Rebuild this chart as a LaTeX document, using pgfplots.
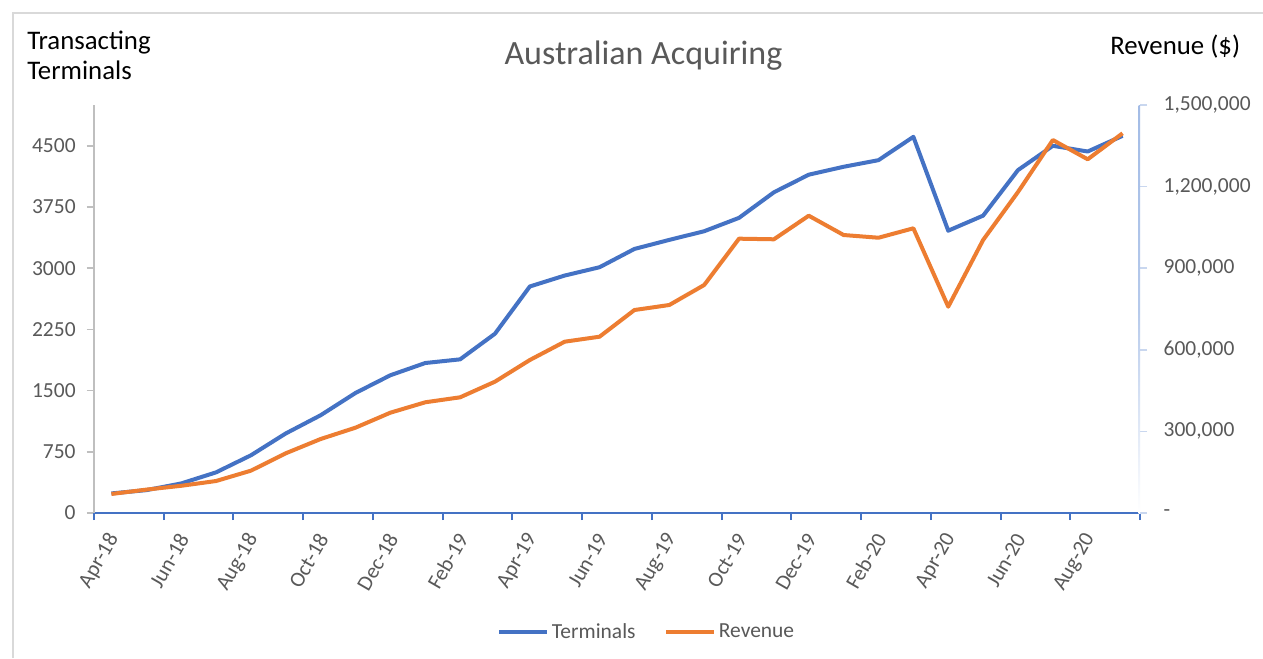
\documentclass[border=0pt]{standalone}
\usepackage{fontspec}
\setmainfont{Carlito}
\usepackage{pgfplots}
\pgfplotsset{compat=1.18}
\definecolor{tblue}{HTML}{4472C4}
\definecolor{torange}{HTML}{ED7D31}
\definecolor{txtgray}{HTML}{595959}
\definecolor{axgray}{HTML}{BFBFBF}
\definecolor{frgray}{HTML}{D9D9D9}
\definecolor{rblue}{HTML}{A3BCE6}
\definecolor{rtick}{HTML}{C9D7EF}
\newcommand{\tickfont}{\fontsize{16.1}{19}\selectfont}
\begin{document}
\begin{tikzpicture}
\useasboundingbox (0,0) rectangle (947.25pt,493.5pt);
\fill[white] (0,0) rectangle (947.25pt,493.5pt);
\draw[frgray, line width=1.5pt] (9.75pt,0pt) -- (9.75pt,483.75pt) -- (947.25pt,483.75pt);
\node[anchor=base, text=txtgray, font=\fontsize{25.5}{30}\selectfont] at (482.6pt,444.75pt) {Australian Acquiring};
\node[anchor=base west, inner sep=0pt, font=\fontsize{20.1}{24}\selectfont] at (20.25pt,456pt) {Transacting};
\node[anchor=base west, inner sep=0pt, font=\fontsize{20.1}{24}\selectfont] at (20.25pt,433.5pt) {Terminals};
\node[anchor=base west, inner sep=0pt, font=\fontsize{20.1}{24}\selectfont] at (832.5pt,452.25pt) {Revenue (\$)};
\begin{axis}[
  at={(70.5pt,108.75pt)}, anchor=south west, scale only axis,
  width=784.5pt, height=306pt,
  xmin=-0.5, xmax=29.5, ymin=0, ymax=5000,
  axis x line*=bottom, axis y line*=left,
  x axis line style={tblue, line width=1.7pt, -},
  y axis line style={axgray, line width=1.5pt, -},
  tick align=outside, major tick length=5.25pt,
  xtick={0,2,...,28},
  xticklabels={Apr-18,Jun-18,Aug-18,Oct-18,Dec-18,Feb-19,Apr-19,Jun-19,Aug-19,Oct-19,Dec-19,Feb-20,Apr-20,Jun-20,Aug-20},
  major x tick style={draw=none},
  extra x ticks={-0.5,1.5,3.5,5.5,7.5,9.5,11.5,13.5,15.5,17.5,19.5,21.5,23.5,25.5,27.5,29.5},
  extra x tick labels={},
  extra x tick style={major x tick style={draw=tblue, line width=1.5pt}},
  xticklabel style={font=\tickfont, text=txtgray, xshift=3.6pt, yshift=-8.5pt, rotate=60, anchor=east},
  ytick={0,750,1500,2250,3000,3750,4500},
  yticklabels={0,750,1500,2250,3000,3750,4500},
  major y tick style={axgray, line width=1.2pt},
  yticklabel style={font=\tickfont, text=txtgray, anchor=east, xshift=-5pt},
]
\addplot[tblue, line width=3pt, line join=round] coordinates {
(0,240) (1,280) (2,362) (3,498) (4,707) (5,975) (6,1198) (7,1471) (8,1688) (9,1838)
(10,1883) (11,2197) (12,2776) (13,2910) (14,3012) (15,3236) (16,3347) (17,3453) (18,3617) (19,3930)
(20,4146) (21,4243) (22,4324) (23,4610) (24,3460) (25,3644) (26,4202) (27,4500) (28,4430) (29,4622)
};
\end{axis}
\begin{axis}[
  at={(70.5pt,108.75pt)}, anchor=south west, scale only axis,
  width=784.5pt, height=306pt,
  xmin=-0.5, xmax=29.5, ymin=0, ymax=1500000,
  axis x line=none, axis y line*=right,
  y axis line style={draw=none},
  scaled y ticks=false,
  tick align=outside, major tick length=5.25pt,
  ytick={0,300000,600000,900000,1200000,1500000},
  yticklabels={-,{300,000},{600,000},{900,000},{1,200,000},{1,500,000}},
  major y tick style={rtick, line width=1.2pt},
  yticklabel style={font=\tickfont, text=txtgray, anchor=west, xshift=9pt},
  legend style={at={(0.5287,-0.2917)}, anchor=center, draw=none, fill=none,
    legend columns=2, font=\tickfont, text=txtgray,
    /tikz/every even column/.append style={column sep=19.5pt}},
  legend image code/.code={\draw[#1] (0pt,0pt) -- (36pt,0pt);},
]
\shade[top color=rblue, bottom color=white, middle color=rblue!80] (axis description cs:1,0) ++(-1pt,0pt) rectangle ++(2pt,306pt);
\addlegendimage{tblue, line width=3pt}
\addlegendentry{Terminals}
\addplot[torange, line width=3pt, line join=round] coordinates {
(0,70000) (1,86000) (2,100000) (3,117600) (4,155600) (5,219500) (6,272000) (7,313700) (8,368800) (9,407000)
(10,425300) (11,482800) (12,562500) (13,629800) (14,648200) (15,746300) (16,764700) (17,838200) (18,1008500) (19,1006300)
(20,1093000) (21,1022000) (22,1012000) (23,1046700) (24,758500) (25,1003700) (26,1180000) (27,1371300) (28,1300400) (29,1396000)
};
\addlegendentry{Revenue}
\end{axis}
\end{tikzpicture}
\end{document}
